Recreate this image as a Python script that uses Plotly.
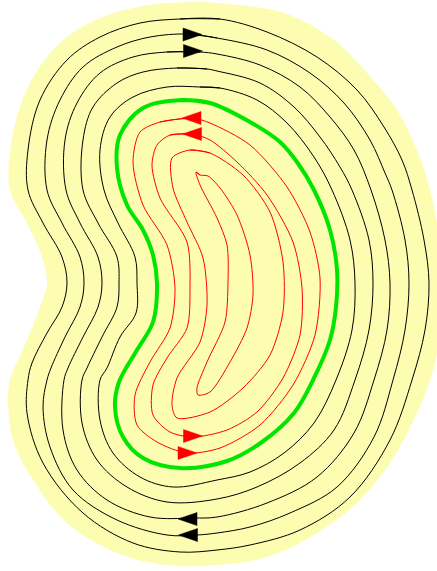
import plotly.graph_objects as go

# Closed level curves of the kidney-shaped region, traced clockwise (x, y in px, y downward)
boundary = [(150, 5), (200, 2), (217, 3), (284, 13), (334, 40), (367, 73), (397, 110), (417, 150),
            (430, 190), (440, 240), (446, 290), (440, 340), (430, 380), (417, 413), (390, 463),
            (357, 503), (317, 533), (267, 557), (217, 565), (167, 565), (117, 553), (67, 523),
            (33, 480), (13, 440), (8, 400), (10, 380), (27, 340), (40, 307), (47, 283), (42, 257),
            (27, 223), (10, 190), (13, 133), (30, 83), (60, 43), (100, 18)]

black_1 = [(180, 19), (220, 19), (267, 32), (317, 57), (357, 90), (384, 127), (402, 160), (412, 190),
           (424, 240), (429, 283), (425, 330), (412, 380), (390, 440), (350, 497), (300, 530),
           (250, 545), (217, 550), (180, 552), (133, 543), (83, 513), (43, 463), (27, 413),
           (28, 380), (32, 363), (47, 333), (62, 307), (67, 283), (62, 257), (43, 223), (28, 190),
           (28, 150), (40, 100), (67, 60), (100, 37), (140, 23)]

black_2 = [(187, 34), (217, 38), (267, 50), (310, 73), (344, 103), (370, 140), (385, 173), (392, 190),
           (405, 240), (409, 283), (405, 330), (393, 380), (374, 437), (337, 487), (290, 513),
           (250, 527), (217, 533), (197, 535), (167, 535), (117, 520), (73, 490), (50, 447),
           (43, 407), (47, 380), (51, 368), (65, 337), (80, 307), (84, 283), (80, 257), (62, 223),
           (47, 190), (47, 140), (60, 100), (83, 67), (117, 47), (150, 37)]

black_3 = [(167, 52), (200, 52), (217, 54), (260, 65), (300, 87), (330, 117), (354, 150), (371, 190),
           (385, 240), (390, 283), (387, 330), (374, 380), (354, 433), (317, 477), (267, 503),
           (217, 517), (193, 518), (150, 517), (107, 500), (77, 470), (63, 430), (64, 380),
           (68, 368), (83, 337), (98, 307), (102, 283), (98, 257), (80, 223), (66, 190), (65, 140),
           (77, 103), (100, 73), (133, 57)]

black_4 = [(177, 68), (207, 69), (217, 71), (260, 83), (294, 107), (320, 137), (340, 167), (352, 190),
           (369, 240), (373, 283), (369, 330), (355, 380), (334, 430), (300, 463), (257, 487),
           (217, 499), (167, 502), (127, 487), (97, 460), (82, 423), (82, 380), (87, 368),
           (102, 337), (117, 307), (119, 283), (117, 257), (98, 223), (83, 190), (83, 140),
           (93, 107), (117, 83), (143, 72)]

black_5 = [(200, 87), (220, 88), (257, 100), (287, 123), (314, 157), (332, 190), (350, 240), (355, 283),
           (352, 330), (336, 380), (314, 423), (284, 453), (250, 472), (217, 480), (173, 487),
           (140, 477), (113, 453), (100, 420), (100, 380), (107, 368), (120, 337), (136, 313),
           (137, 283), (135, 257), (118, 223), (104, 190), (100, 150), (110, 117), (133, 97),
           (167, 87)]

green = [(182, 100), (210, 103), (250, 122), (280, 142), (297, 162), (314, 190), (330, 230), (337, 270),
         (336, 307), (330, 340), (314, 378), (294, 413), (262, 442), (227, 461), (180, 468),
         (143, 458), (123, 437), (115, 407), (119, 382), (137, 350), (153, 322), (157, 283),
         (153, 255), (143, 230), (127, 205), (117, 168), (120, 135), (143, 108)]

red_1 = [(160, 122), (192, 118), (210, 123), (250, 145), (287, 187), (310, 232), (320, 278), (315, 335),
         (293, 385), (260, 425), (220, 448), (187, 453), (157, 442), (137, 425), (135, 395),
         (150, 362), (170, 328), (175, 288), (167, 245), (143, 205), (133, 162), (140, 132)]

red_2 = [(170, 135), (192, 134), (210, 140), (237, 162), (267, 195), (293, 242), (302, 288), (300, 335),
         (283, 378), (257, 412), (227, 430), (193, 437), (170, 432), (153, 415), (153, 385),
         (167, 358), (187, 328), (190, 288), (187, 242), (160, 198), (152, 165), (157, 145)]

red_3 = [(190, 150), (210, 153), (243, 175), (270, 212), (283, 262), (283, 312), (270, 355), (243, 388),
         (210, 412), (177, 418), (172, 405), (177, 378), (200, 342), (207, 305), (203, 258),
         (187, 222), (173, 188), (172, 158)]

red_4 = [(196, 172), (200, 175), (208, 176), (220, 188), (237, 215), (250, 255), (253, 295), (247, 328),
         (230, 362), (210, 392), (198, 395), (197, 388), (207, 362), (225, 322), (228, 282),
         (227, 245), (217, 218), (200, 185)]

# Direction markers: centre point and heading (+1 right, -1 left)
black_arrow_x = [192.5, 193.0, 187.5, 188.0]
black_arrow_y = [34.5, 51.0, 519.0, 535.0]
black_arrow_dir = [1, 1, -1, -1]

red_arrow_x = [191.5, 192.0, 193.0, 187.5]
red_arrow_y = [118.0, 134.0, 436.0, 453.0]
red_arrow_dir = [-1, -1, 1, 1]

W, H = 437, 571
YELLOW = "#fdfdb2"
GREEN = "#00e600"


def closed(pts):
    xs = [p[0] for p in pts] + [pts[0][0], pts[1][0]]
    ys = [p[1] for p in pts] + [pts[0][1], pts[1][1]]
    return xs, ys


fig = go.Figure()

bx, by = closed(boundary)
fig.add_trace(go.Scatter(x=bx, y=by, mode="lines", fill="toself", fillcolor=YELLOW,
                         line=dict(color=YELLOW, width=0, shape="spline", smoothing=1),
                         hoverinfo="skip", showlegend=False))

for curve in (black_1, black_2, black_3, black_4, black_5):
    cx, cy = closed(curve)
    fig.add_trace(go.Scatter(x=cx, y=cy, mode="lines",
                             line=dict(color="black", width=1, shape="spline", smoothing=1),
                             hoverinfo="skip", showlegend=False))

for curve in (red_1, red_2, red_3, red_4):
    cx, cy = closed(curve)
    fig.add_trace(go.Scatter(x=cx, y=cy, mode="lines",
                             line=dict(color="red", width=1, shape="spline", smoothing=0.8),
                             hoverinfo="skip", showlegend=False))

gx, gy = closed(green)
fig.add_trace(go.Scatter(x=gx, y=gy, mode="lines",
                         line=dict(color=GREEN, width=4, shape="spline", smoothing=1),
                         hoverinfo="skip", showlegend=False))

# Arrowheads as filled triangles around each marker centre
HALF_LEN, HALF_H = 9.5, 6.5


def add_arrows(xs, ys, dirs, color):
    for x, y, d in zip(xs, ys, dirs):
        tx = [x + d * HALF_LEN, x - d * HALF_LEN, x - d * HALF_LEN, x + d * HALF_LEN]
        ty = [y, y - HALF_H, y + HALF_H, y]
        fig.add_trace(go.Scatter(x=tx, y=ty, mode="lines", fill="toself", fillcolor=color,
                                 line=dict(color=color, width=0.5),
                                 hoverinfo="skip", showlegend=False))


add_arrows(black_arrow_x, black_arrow_y, black_arrow_dir, "black")
add_arrows(red_arrow_x, red_arrow_y, red_arrow_dir, "red")

fig.update_layout(
    width=W, height=H,
    margin=dict(l=0, r=0, t=0, b=0),
    paper_bgcolor="white", plot_bgcolor="white",
    xaxis=dict(range=[0, W], visible=False, fixedrange=True),
    yaxis=dict(range=[H, 0], visible=False, fixedrange=True),
    showlegend=False,
)

fig.write_html("out.html")
